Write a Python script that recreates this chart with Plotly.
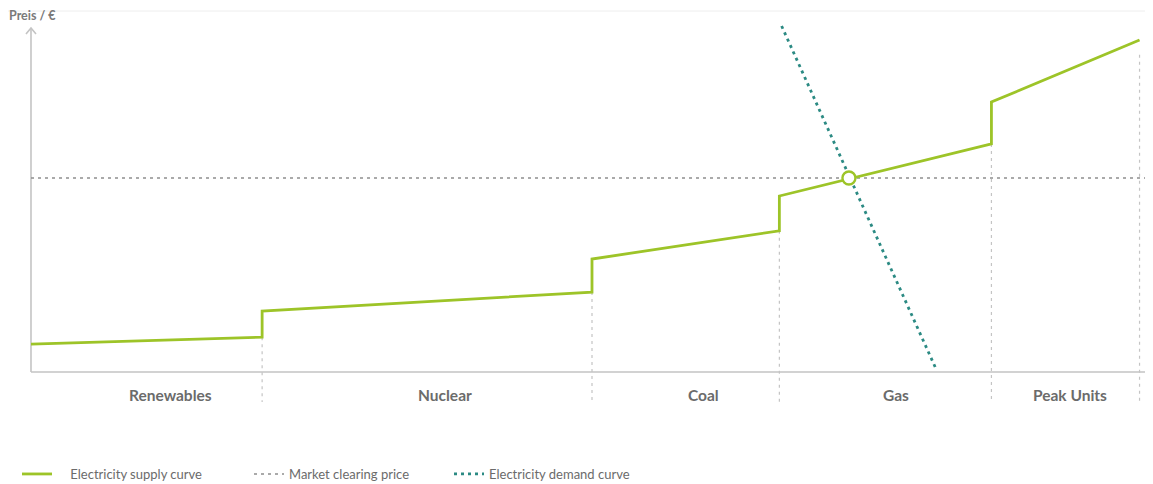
import plotly.graph_objects as go

# ---- data (quantity on x, price on y; arbitrary units) ----
categories = ["Renewables", "Nuclear", "Coal", "Gas", "Peak Units"]
seg_start = [0.0, 20.6, 50.0, 66.7, 85.6]
seg_end = [20.6, 50.0, 66.7, 85.6, 98.8]
price_start = [7.9, 17.3, 32.1, 50.0, 76.7]
price_end = [9.9, 22.7, 40.1, 64.8, 94.3]
label_x = [12.4, 36.9, 59.9, 77.1, 92.6]

clearing_price = 55.1
clearing_qty = 72.9

demand_q = [66.9, 80.7]
demand_p = [98.3, 0.6]

GREEN = "#9dc428"
TEAL = "#2b8a83"
GRAY = "#8f8f8f"
TXT = "#6b6b6b"
FONT = "Lato, 'Open Sans', sans-serif"

# page body has an 8px default margin; compensate so the plot lands where intended
OFF = 8
W, H = 1153 - OFF, 484 - OFF
L, T, B = 31 - OFF, 20 - OFF, 74
PW = W - L          # plot width in px
PH = H - T - B      # plot height in px
PLOT_LEFT, PLOT_BOTTOM = 31, 410


def px_to_paper(px, py):
    return (px - PLOT_LEFT) / PW, (PLOT_BOTTOM - py) / PH


# build supply step curve
sx, sy = [], []
for a, b, p0, p1 in zip(seg_start, seg_end, price_start, price_end):
    sx += [a, b]
    sy += [p0, p1]

fig = go.Figure()

YMIN = -10.8
YMAX = 100.0

# vertical dashed separators (from curve down below axis)
for b, p1 in zip(seg_end, price_end):
    top = p1 - (4.2 if b == seg_end[-1] else 0)
    fig.add_trace(go.Scatter(x=[b, b], y=[top, -8.5], mode="lines",
                             line=dict(color="#c4c4c4", width=1.2, dash="3px,4px"),
                             showlegend=False, hoverinfo="skip"))

# market clearing price
fig.add_trace(go.Scatter(x=[0, 100], y=[clearing_price, clearing_price], mode="lines",
                         line=dict(color=GRAY, width=1.6, dash="3px,4px"),
                         name="Market clearing price", legend="legend2"))

# demand curve
fig.add_trace(go.Scatter(x=demand_q, y=demand_p, mode="lines",
                         line=dict(color=TEAL, width=2.8, dash="3px,4px"),
                         name="Electricity demand curve", legend="legend3"))

# supply curve
fig.add_trace(go.Scatter(x=sx, y=sy, mode="lines",
                         line=dict(color=GREEN, width=2.8),
                         name="\u00a0\u00a0\u00a0\u00a0Electricity supply curve", legend="legend"))

# intersection marker
fig.add_trace(go.Scatter(x=[clearing_qty], y=[clearing_price], mode="markers",
                         marker=dict(size=13, color="white", line=dict(color=GREEN, width=2.4)),
                         showlegend=False, hoverinfo="skip"))

# axes lines as shapes (paper coords so they are not clipped)
_, ax_y0 = px_to_paper(0, 372)
_, ax_top = px_to_paper(0, 28)
fig.add_shape(type="line", xref="paper", yref="paper", x0=0, x1=1, y0=ax_y0, y1=ax_y0,
              line=dict(color="#d2d2d2", width=2), layer="below")
fig.add_shape(type="line", xref="paper", yref="paper", x0=0, x1=0, y0=ax_y0, y1=ax_top,
              line=dict(color="#c4c4c4", width=1.6), layer="below")
ahx, _ = px_to_paper(31 + 5, 0)
_, ahy = px_to_paper(0, 34)
fig.add_shape(type="path", xref="paper", yref="paper",
              path=f"M {-ahx} {ahy} L 0 {ax_top} L {ahx} {ahy}",
              line=dict(color="#c4c4c4", width=1.6), layer="below")

# category labels
for name, lx in zip(categories, label_x):
    fig.add_annotation(x=lx, y=-6.5, xref="x", yref="y", text="<b>" + name + "</b>",
                       showarrow=False, font=dict(family=FONT, size=15.5, color=TXT))

# y axis title
tx, ty = px_to_paper(7, 15)
fig.add_annotation(x=tx, y=ty, xref="paper", yref="paper",
                   text="<b>Preis / €</b>", showarrow=False, xanchor="left", yanchor="middle",
                   font=dict(family=FONT, size=12.5, color="#7a7a7a"))

# faint top rule
_, ry = px_to_paper(0, 11)
fig.add_shape(type="line", xref="paper", yref="paper", x0=-L / PW, x1=1, y0=ry, y1=ry,
              line=dict(color="#eeeeee", width=1))

legend_font = dict(family=FONT, size=13, color=TXT)
lx1, ly = px_to_paper(17, 474)
lx2, _ = px_to_paper(249, 474)
lx3, _ = px_to_paper(449, 474)


def leg(x):
    return dict(orientation="h", x=x, y=ly, xanchor="left", yanchor="middle",
                font=legend_font, bgcolor="rgba(0,0,0,0)", itemwidth=30)


fig.update_layout(
    width=W, height=H,
    margin=dict(l=L, r=0, t=T, b=B, autoexpand=False),
    plot_bgcolor="white", paper_bgcolor="white",
    xaxis=dict(range=[0, 100], visible=False, fixedrange=True),
    yaxis=dict(range=[YMIN, YMAX], visible=False, fixedrange=True),
    showlegend=True,
    legend=leg(lx1),
    legend2=leg(lx2),
    legend3=leg(lx3),
)

fig.write_html("out.html")
